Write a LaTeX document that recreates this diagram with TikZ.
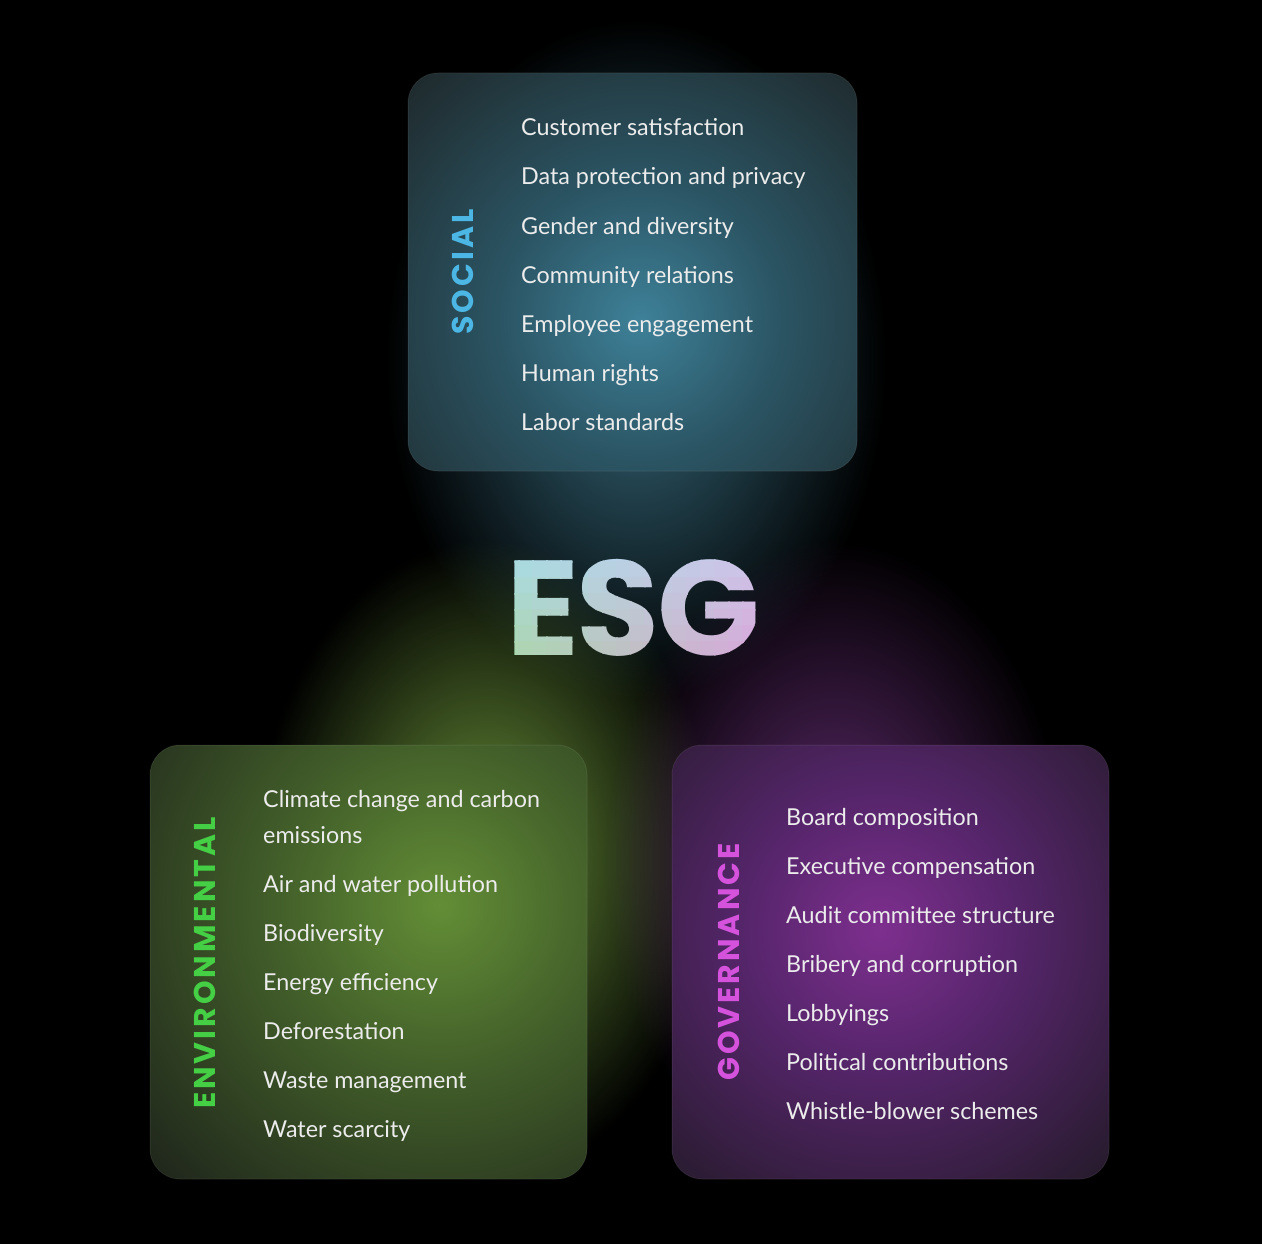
\documentclass[tikz,border=0pt]{standalone}
\usepackage{fontspec}
\setmainfont{Lato}
\newfontfamily\labelfont[LetterSpace=10]{Poppins}
\newfontfamily\esgfont[LetterSpace=-2]{Poppins}
\usetikzlibrary{fadings}

\definecolor{itemcol}{HTML}{ECECEC}
\definecolor{socC}{HTML}{3E8199}
\definecolor{socM}{HTML}{2B5564}
\definecolor{socE}{HTML}{1E2729}
\definecolor{envC}{HTML}{638E36}
\definecolor{envM}{HTML}{43602A}
\definecolor{envE}{HTML}{1E241B}
\definecolor{govC}{HTML}{7E2F8F}
\definecolor{govM}{HTML}{55256A}
\definecolor{govE}{HTML}{231A28}
\definecolor{socLab}{HTML}{4CB6E4}
\definecolor{envLab}{HTML}{45CF45}
\definecolor{govLab}{HTML}{D552DD}
\definecolor{socGlow}{HTML}{36687A}
\definecolor{envGlow}{HTML}{6A923A}
\definecolor{govGlow}{HTML}{5E2A6C}
\definecolor{esgUL}{HTML}{A6DDE6}
\definecolor{esgUR}{HTML}{CFC6EA}
\definecolor{esgLL}{HTML}{A9D9A6}
\definecolor{esgLR}{HTML}{D9A3DA}

% radial shadings: the path's bounding box maps to +-25bp
\pgfdeclareradialshading{socsh}{\pgfpointorigin}{color(0bp)=(socC); color(10bp)=(socM); color(25bp)=(socE); color(50bp)=(socE)}
\pgfdeclareradialshading{envsh}{\pgfpointorigin}{color(0bp)=(envC); color(10bp)=(envM); color(25bp)=(envE); color(50bp)=(envE)}
\pgfdeclareradialshading{govsh}{\pgfpointorigin}{color(0bp)=(govC); color(10bp)=(govM); color(25bp)=(govE); color(50bp)=(govE)}
\pgfdeclareradialshading{glowsh}{\pgfpointorigin}{color(0bp)=(white); color(25bp)=(black); color(50bp)=(black)}
\pgfdeclarefading{glow}{\pgfuseshading{glowsh}}

\begin{document}
\begin{tikzpicture}[x=1pt,y=-1pt,
  item/.style={anchor=base west, text=itemcol, inner sep=0pt, font=\fontsize{23.3}{28}\selectfont},
  cat/.style={rotate=90, inner sep=0pt, font=\labelfont\bfseries\fontsize{30}{32}\selectfont},
  esgtext/.style={inner sep=0pt, font=\esgfont\bfseries\fontsize{135}{140}\selectfont},
  panel/.style={rounded corners=30pt},
  rim/.style={draw=white, draw opacity=0.07, line width=1pt, rounded corners=30pt}]

\fill[black] (0,0) rectangle (1262,1244);
\useasboundingbox (0,0) rectangle (1262,1244);

% background glows
\fill[socGlow, path fading=glow] (636,360) ellipse [x radius=250, y radius=340];
\fill[envGlow, path fading=glow] (485,860) ellipse [x radius=230, y radius=320];
\fill[govGlow, path fading=glow] (835,860) ellipse [x radius=230, y radius=320];

% SOCIAL panel
\begin{scope}
  \clip[panel] (408,73) rectangle (857,471);
  \shade[shading=socsh] (640,320) circle (345);
\end{scope}
\draw[rim] (408,73) rectangle (857,471);

% ENVIRONMENTAL panel
\begin{scope}
  \clip[panel] (150,745) rectangle (587,1179);
  \shade[shading=envsh] (440,905) circle (400);
\end{scope}
\draw[rim] (150,745) rectangle (587,1179);

% GOVERNANCE panel
\begin{scope}
  \clip[panel] (672,745) rectangle (1109,1179);
  \shade[shading=govsh] (880,930) circle (345);
\end{scope}
\draw[rim] (672,745) rectangle (1109,1179);

% category labels
\node[cat, text=socLab] (socLabel) at (463,272) {SOCIAL};
\node[cat, text=envLab] (envLabel) at (205,963) {ENVIRONMENTAL};
\node[cat, text=govLab] (govLabel) at (729,962) {GOVERNANCE};

% social items
\foreach \t [count=\i from 0] in {Customer satisfaction, Data protection and privacy, Gender and diversity, Community relations, Employee engagement, Human rights, Labor standards}
  \node[item] (soc-\i) at (521,136+49*\i) {\t};

% environmental items
\node[item] (env-a) at (263,807) {Climate change and carbon};
\node[item] (env-b) at (263,843) {emissions};
\foreach \t [count=\i from 0] in {Air and water pollution, Biodiversity, Energy efficiency, Deforestation, Waste management, Water scarcity}
  \node[item] (env-\i) at (263,892+49*\i) {\t};

% governance items
\foreach \t [count=\i from 0] in {Board composition, Executive compensation, Audit committee structure, Bribery and corruption, Lobbyings, Political contributions, Whistle-blower schemes}
  \node[item] (gov-\i) at (786,825+49*\i) {\t};

% ESG title with a bilinear colour gradient, drawn cell by cell
\foreach \i in {0,...,19}{
  \foreach \j in {0,...,7}{
    \pgfmathtruncatemacro{\p}{round(\i*100/19)}
    \pgfmathtruncatemacro{\q}{round(\j*100/7)}
    \colorlet{esgtop}{esgUR!\p!esgUL}
    \colorlet{esgbot}{esgLR!\p!esgLL}
    \colorlet{esgcell}{esgbot!\q!esgtop}
    \begin{scope}
      \clip (490+\i*14,545+\j*16) rectangle (490+\i*14+15.5,545+\j*16+17.5);
      \node[esgtext, text=esgcell] (esg-\i-\j) at (633,608) {ESG};
    \end{scope}
  }
}
\end{tikzpicture}
\end{document}
